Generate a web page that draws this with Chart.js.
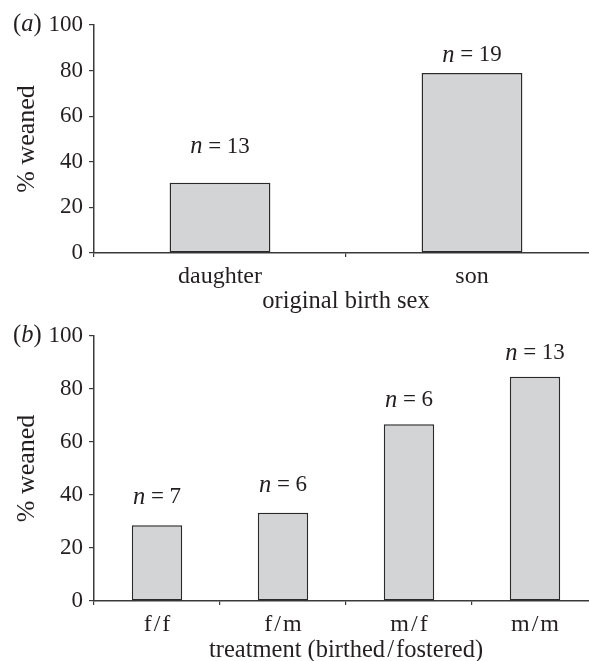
<!DOCTYPE html>
<html>
<head>
<meta charset="utf-8">
<script src="https://cdn.jsdelivr.net/npm/chart.js@4.4.1/dist/chart.umd.min.js"></script>
<style>
  html, body { margin: 0; padding: 0; background: #fff; overflow: hidden; }
  .panel { position: absolute; left: 0; width: 600px; }
  #wrapA { top: 0; height: 316px; }
  #wrapB { top: 316px; height: 352px; }
</style>
</head>
<body>
<div class="panel" id="wrapA"><canvas id="chartA"></canvas></div>
<div class="panel" id="wrapB"><canvas id="chartB"></canvas></div>
<script>
// panel (a): by original birth sex
var sexLabels = ['daughter', 'son'];
var sexWeaned = [30.8, 78.9];
var sexN = [13, 19];
var sexNLevel = [46.5, 86.8]; // where the n = .. text sits, in % units

// panel (b): by treatment (birthed/fostered)
var treatLabels = ['f\u200A/\u200Af', 'f\u200A/\u200Am', 'm\u200A/\u200Af', 'm\u200A/\u200Am'];
var treatWeaned = [28.6, 33.3, 66.7, 84.6];
var treatN = [7, 6, 6, 13];
var treatNLevel = [39.2, 43.7, 75.8, 93.5];

var yTicks = [0, 20, 40, 60, 80, 100];

var FONT = "'Liberation Serif', 'Times New Roman', serif";
var FS = 23;     // numbers
var FS_TXT = 24.5; // words
var INK = '#231f20';
var AXIS = '#3a3a3a';

/**
 * draws the (a)/(b) tag and the italic n = .. labels
 */
var annotate = {
  id: 'annotate',
  afterDraw: function(chart, args, opts) {
    var ctx = chart.ctx;
    var x = chart.scales.x, y = chart.scales.y;
    ctx.save();
    ctx.fillStyle = INK;
    ctx.textBaseline = 'middle';
    // panel tag
    var ty = chart.chartArea.top;
    var tx = 13;
    ctx.textAlign = 'left';
    ctx.font = FS_TXT + 'px ' + FONT;
    ctx.fillText('(', tx, ty);
    tx += ctx.measureText('(').width;
    ctx.font = 'italic ' + FS_TXT + 'px ' + FONT;
    ctx.fillText(opts.tag, tx, ty);
    tx += ctx.measureText(opts.tag).width;
    ctx.font = FS_TXT + 'px ' + FONT;
    ctx.fillText(')', tx, ty);
    // n labels
    opts.n.forEach(function(n, i) {
      ctx.font = 'italic ' + FS_TXT + 'px ' + FONT;
      var w1 = ctx.measureText('n').width;
      ctx.font = FS + 'px ' + FONT;
      var rest = ' = ' + n;
      var w2 = ctx.measureText(rest).width;
      var cx = x.getPixelForValue(i);
      var cy = y.getPixelForValue(opts.level[i]);
      var sx = cx - (w1 + w2) / 2;
      ctx.textAlign = 'left';
      ctx.font = 'italic ' + FS_TXT + 'px ' + FONT;
      ctx.fillText('n', sx, cy);
      ctx.font = FS + 'px ' + FONT;
      ctx.fillText(rest, sx + w1, cy);
    });
    ctx.restore();
  }
};

function makeChart(id, labels, values, nArr, level, tag, xTitle, geo) {
  var ctx = document.getElementById(id).getContext('2d');
  return new Chart(ctx, {
    type: 'bar',
    data: {
      labels: labels,
      datasets: [{
        data: values,
        backgroundColor: '#d3d4d6',
        borderColor: '#2a2a2a',
        borderWidth: 1.5,
        borderSkipped: false,
        categoryPercentage: 1,
        barPercentage: geo.barPct
      }]
    },
    options: {
      responsive: true,
      maintainAspectRatio: false,
      animation: false,
      layout: { padding: { top: geo.top, right: 2, bottom: 0, left: 0 } },
      plugins: {
        legend: { display: false },
        tooltip: { enabled: false },
        annotate: { tag: tag, n: nArr, level: level }
      },
      scales: {
        x: {
          offset: true,
          afterFit: function(s) { s.height = geo.xHeight; },
          grid: { display: true, drawOnChartArea: false, drawTicks: true, tickLength: 4, color: AXIS, lineWidth: 1.2, offset: true },
          border: { display: true, color: AXIS, width: 1.5 },
          ticks: { color: INK, font: { family: FONT, size: 24 }, padding: geo.tickPad, maxRotation: 0 },
          title: { display: true, text: xTitle, color: INK, font: { family: FONT, size: FS_TXT }, padding: { top: 0, bottom: geo.titlePad } }
        },
        y: {
          min: 0,
          max: 100,
          afterFit: function(s) { s.width = 94; },
          afterBuildTicks: function(s) { s.ticks = yTicks.map(function(v) { return { value: v }; }); },
          grid: { display: true, drawOnChartArea: false, drawTicks: true, tickLength: 5, color: AXIS, lineWidth: 1.2 },
          border: { display: true, color: AXIS, width: 1.5 },
          ticks: { color: INK, font: { family: FONT, size: FS }, padding: 6 },
          title: { display: true, text: '% weaned', color: INK, font: { family: FONT, size: 26 }, padding: { top: 12, bottom: 0 } }
        }
      }
    },
    plugins: [annotate]
  });
}

makeChart('chartA', sexLabels, sexWeaned, sexN, sexNLevel, 'a', 'original birth sex',
  { top: 25, xHeight: 63, tickPad: 5, titlePad: 0, barPct: 0.4 });
makeChart('chartB', treatLabels, treatWeaned, treatN, treatNLevel, 'b', 'treatment (birthed\u200A/\u200Afostered)',
  { top: 20, xHeight: 67, tickPad: 5, titlePad: 3, barPct: 0.4 });
</script>
</body>
</html>
